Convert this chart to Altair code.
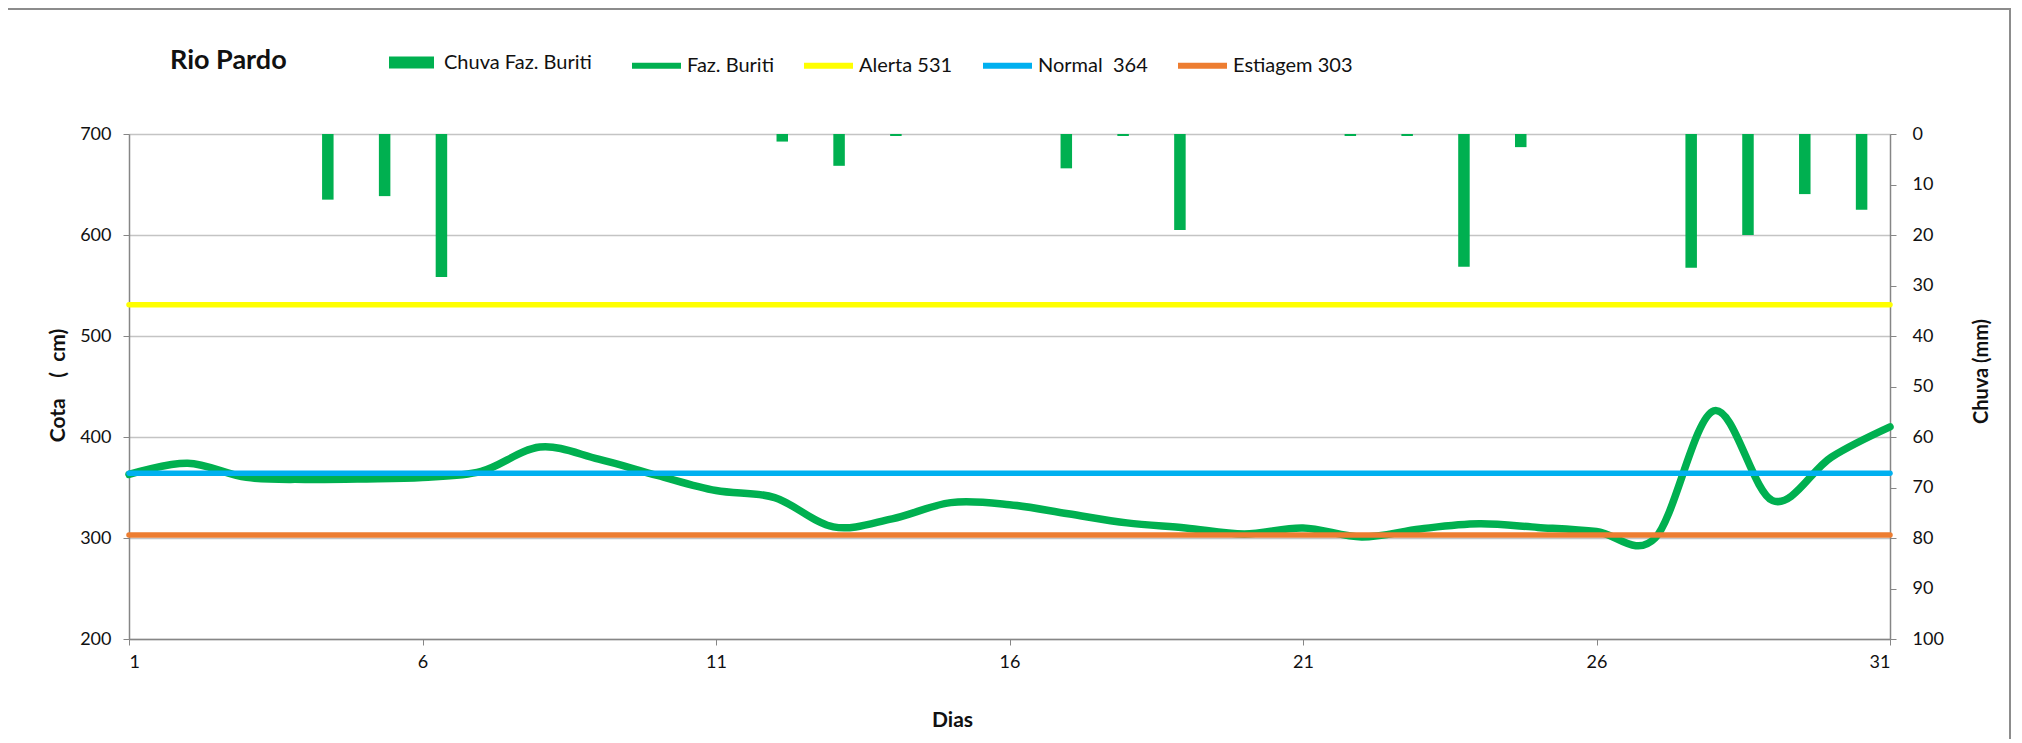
import altair as alt
import pandas as pd

# ---------------- data ----------------
days = list(range(1, 32))
cota = [363, 374, 360, 358, 358.5, 360, 366, 390, 378, 362, 347, 340, 311, 319, 335,
        333, 324, 315, 310, 304, 310, 301, 309, 314, 310.5, 306.5, 300, 426, 337, 380, 410]
chuva = [0, 0, 0, 13, 12.3, 28.3, 0, 0, 0, 0, 0, 1.5, 6.3, 0.4, 0, 0, 6.8, 0.4, 19, 0,
         0, 0.4, 0.4, 26.3, 2.6, 0, 0, 26.5, 20, 11.9, 15]
ref_names = ["Alerta 531", "Normal\u00a0 364", "Estiagem 303"]
ref_values = [531, 364, 303]
line_names = ["Faz. Buriti"] + ref_names
line_colors = ["#00B050", "#FFFF00", "#00B0F0", "#ED7D31"]
bar_name = "Chuva Faz. Buriti"
chart_title = "Rio Pardo"
x_ticks = [1, 6, 11, 16, 21, 26, 31]
left_ticks = [200, 300, 400, 500, 600, 700]
right_ticks = [0, 10, 20, 30, 40, 50, 60, 70, 80, 90, 100]

df_line = pd.DataFrame({"dia": days, "cota": cota, "serie": "Faz. Buriti"})
df_ref = pd.DataFrame([
    {"dia": d, "cota": v, "serie": n}
    for n, v in zip(ref_names, ref_values) for d in days
])
df_bar = pd.DataFrame({"dia": days, "chuva": chuva, "serie": bar_name})

FONT = "Lato"
AX = "#868686"
TXT = "#111111"

# ---------------- layers ----------------
border = alt.Chart(pd.DataFrame({"a": [0]})).mark_rect(
    fill=None, stroke="#8C8C8C", strokeWidth=2
).encode(
    x=alt.value(-122), x2=alt.value(1881), y=alt.value(-125), y2=alt.value(660)
)

title = alt.Chart(pd.DataFrame({"t": [chart_title]})).mark_text(
    align="left", baseline="alphabetic", font=FONT, fontSize=27, fontWeight="bold", color=TXT
).encode(text="t:N", x=alt.value(41), y=alt.value(-65))

bars = alt.Chart(df_bar).mark_bar(size=11.5).encode(
    x=alt.X("dia:O", scale=alt.Scale(domain=days, paddingOuter=0, paddingInner=0), axis=None),
    y=alt.Y("chuva:Q", stack=None,
            scale=alt.Scale(domain=[0, 100], reverse=True, nice=False, zero=False),
            axis=alt.Axis(orient="right", values=right_ticks, grid=False,
                          title="Chuva (mm)", titleAngle=270, titleX=91, titleY=237,
                          titleAlign="center", titleBaseline="middle",
                          tickSize=6, tickColor=AX, domainColor=AX, domainWidth=1.5,
                          labelPadding=16, labelFontSize=18, labelFont=FONT,
                          labelColor=TXT, titleFont=FONT, titleFontSize=20,
                          titleFontWeight="bold", titleColor=TXT)),
    color=alt.Color("serie:N", scale=alt.Scale(domain=[bar_name], range=["#00B050"]),
                    legend=alt.Legend(orient="none", legendX=260, legendY=-94,
                                      direction="horizontal", title=None, padding=0,
                                      symbolType="M-1,-0.27L1,-0.27L1,0.27L-1,0.27Z",
                                      symbolSize=2025, symbolStrokeWidth=0,
                                      labelFont=FONT, labelFontSize=20, labelOffset=10,
                                      labelColor=TXT)),
)

line_legend = alt.Legend(orient="none", legendX=500, legendY=-96, direction="horizontal",
                         title=None, padding=0, symbolType="stroke", symbolSize=2401,
                         symbolStrokeWidth=6, labelFont=FONT, labelFontSize=20,
                         labelOffset=3, columnPadding=18, labelColor=TXT)
color_scale = alt.Scale(domain=line_names, range=line_colors)

x_enc = alt.X("dia:Q", scale=alt.Scale(domain=[1, 31], nice=False, zero=False),
              axis=alt.Axis(values=x_ticks, grid=False, title="Dias", titleX=823, titleY=81,
                            titleAlign="center", titleBaseline="middle",
                            tickSize=6, tickColor=AX, domainColor=AX, domainWidth=1.5,
                            labelPadding=8, labelFontSize=18, labelFont=FONT,
                            labelColor=TXT, titleFont=FONT, titleFontSize=21,
                            titleFontWeight="bold", titleColor=TXT))
y_enc = alt.Y("cota:Q", scale=alt.Scale(domain=[200, 700], nice=False, zero=False),
              axis=alt.Axis(values=left_ticks, grid=True, gridColor="#C4C4C4", gridWidth=1.3,
                            title="Cota\u00a0\u00a0\u00a0\u00a0(\u00a0\u00a0cm)",
                            titleX=-71, titleY=251,
                            titleAngle=270, titleAlign="center", titleBaseline="middle",
                            tickSize=6, tickColor=AX, domainColor=AX, domainWidth=1.5,
                            labelPadding=12, labelFontSize=18, labelFont=FONT,
                            labelColor=TXT, titleFont=FONT, titleFontSize=21,
                            titleFontWeight="bold", titleColor=TXT))

green = alt.Chart(df_line).mark_line(interpolate="cardinal", strokeWidth=7.5,
                                     strokeCap="round").encode(
    x=x_enc, y=y_enc,
    color=alt.Color("serie:N", scale=color_scale, legend=line_legend),
)
refs = alt.Chart(df_ref).mark_line(strokeWidth=5.5, strokeCap="round").encode(
    x=x_enc, y=y_enc,
    color=alt.Color("serie:N", scale=color_scale, legend=line_legend),
    detail="serie:N",
)

lines = alt.layer(green, refs)

chart = alt.layer(border, title, bars, lines).resolve_scale(
    x="independent", y="independent", color="independent"
).properties(
    width=1761, height=505,
    padding={"left": 121, "top": 126, "right": 124, "bottom": 100},
    autosize=alt.AutoSizeParams(type="none"),
).configure_view(stroke=None).configure(font=FONT)

chart.save("out.html", embed_options={"renderer": "svg", "actions": False})
